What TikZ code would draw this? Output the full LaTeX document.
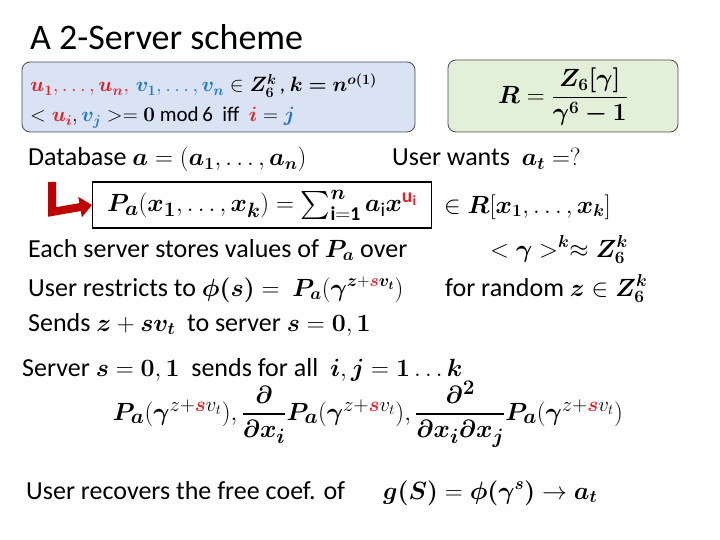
\documentclass[tikz,border=0pt]{standalone}
\usepackage{amsmath,amssymb,bm}
\usepackage{fontspec}
\setmainfont{Carlito}
\usetikzlibrary{positioning,arrows.meta}
\definecolor{boxblue}{HTML}{DAE3F3}
\definecolor{boxgreen}{HTML}{E2EFD9}
\definecolor{ured}{HTML}{E0202A}
\definecolor{vblue}{HTML}{1F77C8}
\newcommand{\bb}[1]{\boldsymbol{#1}}
\begin{document}
\begin{tikzpicture}[x=1pt,y=-1pt,
    line/.style={anchor=base west, inner sep=0pt, font=\fontsize{26}{30}\selectfont},
    infobox/.style={draw=black!70, rounded corners=8pt, thick},
    hint/.style={anchor=base west, inner sep=0pt, font=\fontsize{21}{25}\selectfont}
]
\useasboundingbox (0,0) rectangle (720,540);

% Title
\node[anchor=base west, inner sep=0pt, font=\fontsize{36}{40}\selectfont] (title) at (30,50) {A 2-Server scheme};

% Top boxes
\draw[infobox, fill=boxblue] (22,62) rectangle (415,132);
\node[hint] (vecs) at (30,92) {$\color{ured}\bb{u_1},\ldots,\bb{u_n},\,\color{vblue}\bb{v_1},\ldots,\bb{v_n}\color{black} \in \bb{Z_6^k}$\,, $\bb{k=n^{o(1)}}$};
\node[hint] (orth) at (30,122) {$<\color{ured}\bb{u_i}\color{black},\color{vblue}\bb{v_j}\color{black}>=\bb{0}$ mod\,6\ \ iff\ \ $\color{ured}\bb{i}\color{black}=\color{vblue}\bb{j}$};
\draw[infobox, fill=boxgreen] (448,60) rectangle (678,132);
\node[font=\fontsize{23}{27}\selectfont] (ring) at (563,97) {$\bb{R}=\dfrac{\bb{Z_6[\gamma]}}{\bb{\gamma^6-1}}$};

% Database
\node[line] (db) at (28,166) {Database $\bb{a}=(\bb{a_1},\ldots,\bb{a_n})$};
\node[line] (want) at (392,166) {User wants\ \ $\bb{a_t}=?$};
\node[draw, very thick, inner sep=4pt, minimum width=339pt, minimum height=46pt, font=\fontsize{28}{32}\selectfont] (poly) at (262,205)
  {$\bb{P_a}(\bb{x_1},\ldots,\bb{x_k})=\sum_{\mathbf{i=1}}^{\bb{n}}\bb{a}_{\mathrm{i}}\bb{x}^{\color{ured}\mathbf{u_i}}$};
\node[line, anchor=west] (ring2) at (444,207) {$\in\bb{R}[\bb{x_1},\ldots,\bb{x_k}]$};
\coordinate (bend) at (52,212);
\draw[line width=8pt, red!75!black, -{Triangle[length=12pt,width=20pt]}] (52,182) -- (bend) -- (poly.west);

% Server stores
\node[line] (stores) at (28,257) {Each server stores values of $\bb{P_a}$ over};
\node[line] (grp) at (490,257) {$<\bb{\gamma}>^{\bb{k}}\approx\bb{Z_6^k}$};
\node[line] (restr) at (28,296) {User restricts to $\bb{\phi(s)}=\ \bb{P_a}(\bb{\gamma}^{\bb{z}+\color{ured}\bb{s}\color{black}\bb{v_t}})$};
\node[line] (rand) at (445,296) {for random $\bb{z}\in\bb{Z_6^k}$};
\node[line] (sends) at (28,331) {Sends $\bb{z}+\bb{s}\bb{v_t}$\ \ to server $\bb{s}=\bb{0},\bb{1}$};

% Server answers
\node[line] (answer) at (22,376) {Server $\bb{s}=\bb{0},\bb{1}$\ \ sends for all\ \ $\bb{i},\bb{j}=\bb{1}\ldots\bb{k}$};
\node[font=\fontsize{29}{33}\selectfont] (derivs) at (368,414)
  {$\bb{P_a}(\bb{\gamma}^{z+\color{ured}\bb{s}\color{black}v_t}),\dfrac{\bb{\partial}}{\bb{\partial x_i}}\bb{P_a}(\bb{\gamma}^{z+\color{ured}\bb{s}\color{black}v_t}),\dfrac{\bb{\partial^2}}{\bb{\partial x_i\partial x_j}}\bb{P_a}(\bb{\gamma}^{z+\color{ured}\bb{s}\color{black}v_t})$};

% Recovery
\node[line] (recover) at (26,499) {User recovers the free coef. of};
\node[line] (gfun) at (383,499) {$\bb{g(S)}=\bb{\phi(\gamma^s)}\to\bb{a_t}$};
\end{tikzpicture}
\end{document}
